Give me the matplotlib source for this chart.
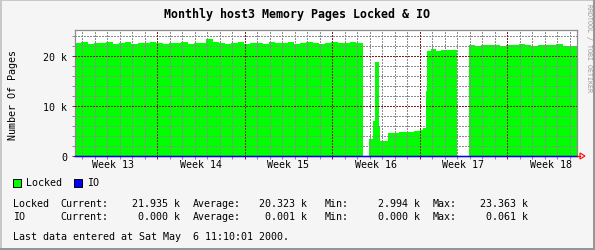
import matplotlib.pyplot as plt
import numpy as np
from matplotlib.patches import Rectangle, Polygon

W, H = 595, 251
nan = np.nan

# Locked pages (k), step data, x in days from left edge of graph
seg_a_days = np.arange(0, 23.2, 0.5)
seg_a_vals = [22.6, 22.8, 22.5, 22.7, 22.6, 22.9, 22.5, 22.6, 22.8, 22.4,
              22.6, 22.7, 22.9, 22.6, 22.5, 22.7, 22.6, 22.8, 22.5, 22.6,
              22.7, 23.36, 22.8, 22.7, 22.5, 22.6, 22.8, 22.4, 22.6, 22.7,
              22.5, 22.8, 22.6, 22.7, 22.9, 22.5, 22.6, 22.8, 22.7, 22.5,
              22.6, 22.9, 22.7, 22.6, 22.8, 22.7, 22.6]
seg_b_days = [23.2, 23.52, 23.84, 24.0, 24.32, 24.42, 25.0, 25.9, 26.6,
              27.1, 27.6, 27.84, 28.05, 28.16, 28.5, 28.9, 29.3, 29.8,
              30.2, 30.55, 30.96]
seg_b_vals = [nan, 3.5, 7.0, 18.8, 6.0, 3.0, 4.7, 4.9, 4.8,
              5.1, 5.3, 5.6, 13.0, 21.0, 21.4, 21.1, 21.3, 21.2,
              21.3, 21.4, nan]
seg_c_days = [31.52, 32.0, 32.5, 33.0, 33.5, 34.0, 34.5, 35.0, 35.5, 36.0,
              36.5, 37.0, 37.5, 38.0, 38.5, 39.0, 39.5, 40.0, 40.16]
seg_c_vals = [22.3, 22.0, 22.2, 22.2, 22.3, 22.1, 22.2, 22.2, 22.5, 22.2,
              22.1, 22.3, 22.2, 22.2, 22.4, 22.1, 22.0, 21.94, 21.94]

locked_days = np.concatenate([seg_a_days, seg_b_days, seg_c_days])
locked_k = np.array(seg_a_vals + seg_b_vals + seg_c_vals)

io_days = [0, 12.0, 12.2, 40.16]
io_k = [0.0, 0.061, 0.0, 0.0]

week_starts = [6.56, 13.56, 20.56, 27.56, 34.56]
week_labels = ['Week 13', 'Week 14', 'Week 15', 'Week 16', 'Week 17', 'Week 18']
week_mid = [3.06, 10.06, 17.06, 24.06, 31.06, 38.06]
x_end = 40.16
y_top = 25.2

stat_names = ['Current:', 'Average:', 'Min:', 'Max:']
locked_stats = [21.935, 20.323, 2.994, 23.363]
io_stats = [0.000, 0.001, 0.000, 0.061]

GRID = '#8c8c8c'
MGRID = '#821e1e'
MONO = 'DejaVu Sans Mono'

fig = plt.figure(figsize=(W / 100, H / 100), dpi=100, facecolor='#f5f5f5')

# shaded border
fig.add_artist(Rectangle((0, 1 - 2 / H), 1, 2 / H, transform=fig.transFigure, color='#c8c8c8', lw=0))
fig.add_artist(Rectangle((0, 0), 2 / W, 1, transform=fig.transFigure, color='#c8c8c8', lw=0))
fig.add_artist(Rectangle((0, 0), 1, 2 / H, transform=fig.transFigure, color='#969696', lw=0))
fig.add_artist(Rectangle((1 - 2 / W, 0), 2 / W, 1, transform=fig.transFigure, color='#969696', lw=0))

ax = fig.add_axes([75 / W, (H - 157) / H, (577 - 75) / W, (157 - 31) / H])
ax.set_facecolor('white')

ax.fill_between(locked_days, 0, locked_k, step='post', color='#00ff00', lw=0, zorder=1)

# grid on top of the area
days = [w + d for w in [0.56 - 1] + week_starts for d in range(1, 7)]
for d in days:
    if 0 < d < x_end:
        ax.axvline(d, color=GRID, lw=0.72, ls=(0, (2, 2)), zorder=2, antialiased=False)
for w in week_starts:
    ax.axvline(w, color=MGRID, lw=0.72, ls=(0, (1.4, 1.4)), zorder=3, antialiased=False)
for yv in range(2, 26, 2):
    if yv % 10:
        ax.axhline(yv, color=GRID, lw=0.72, ls=(0, (2, 2)), zorder=2, antialiased=False)
for yv in [10, 20]:
    ax.axhline(yv, color=MGRID, lw=0.72, ls=(0, (1.4, 1.4)), zorder=3, antialiased=False)

ax.step(io_days, io_k, where='post', color='#0000ff', lw=1.0, zorder=5, clip_on=False)

ax.set_xlim(0, x_end)
ax.set_ylim(0, y_top)

for s in ['top', 'left', 'right']:
    ax.spines[s].set_color(GRID)
    ax.spines[s].set_linewidth(0.9)
ax.spines['bottom'].set_color(MGRID)
ax.spines['bottom'].set_linewidth(0.9)

ax.set_xticks([d for d in days if 0 < d < x_end], minor=True)
ax.set_xticks(week_starts)
ax.set_xticklabels([])
ax.tick_params(axis='x', which='major', length=2.5, width=0.72, color=MGRID)
ax.tick_params(axis='x', which='minor', length=2.5, width=0.72, color=GRID)
ax.set_yticks([0, 10, 20])
ax.set_yticklabels(['0', '10 k', '20 k'], family=MONO, fontsize=7.2)
ax.set_yticks(range(2, 26, 2), minor=True)
ax.tick_params(axis='y', which='major', length=2.5, width=0.72, color=MGRID, pad=3)
ax.tick_params(axis='y', which='minor', length=2.5, width=0.72, color=GRID)

for m, lab in zip(week_mid, week_labels):
    ax.text(m, -1.6, lab, ha='center', va='center', family=MONO, fontsize=7.2)


def put(x, y, s, ha='left', **kw):
    kw.setdefault('family', MONO)
    kw.setdefault('fontsize', 7.2)
    fig.text(x / W, 1 - y / H, s, ha=ha, va='center', **kw)


# axis arrow
fig.add_artist(plt.Line2D([577 / W, 580 / W], [1 - 157 / H] * 2, color='red', lw=0.8))
fig.add_artist(Polygon([[580 / W, 1 - 154 / H], [580 / W, 1 - 160 / H], [585 / W, 1 - 157 / H]],
                       closed=True, fill=False, edgecolor='red', lw=0.8, transform=fig.transFigure))

put(297.5, 15, 'Monthly host3 Memory Pages Locked & IO', ha='center', fontsize=8.4, weight='bold')
fig.text(12.7 / W, 1 - 95 / H, 'Number Of Pages', rotation=90, ha='center', va='center',
         family=MONO, fontsize=7.2)
fig.text(589 / W, 1 - 48 / H, 'RRDTOOL / TOBI OETIKER', rotation=270, ha='center', va='center',
         family=MONO, fontsize=4.8, color='#999999')

# legend
fig.add_artist(Rectangle((12.5 / W, 1 - 187.5 / H), 8 / W, 8 / H, transform=fig.transFigure,
                         facecolor='#00ff00', edgecolor='black', lw=0.7))
put(26, 183.5, 'Locked')
fig.add_artist(Rectangle((73.5 / W, 1 - 187.5 / H), 8 / W, 8 / H, transform=fig.transFigure,
                         facecolor='#0000ff', edgecolor='black', lw=0.7))
put(87, 183.5, 'IO')

# stats
label_x = [60, 192.7, 325, 432.7]
value_x = [180, 307, 420, 528]
for row_y, name, vals in [(204, 'Locked', locked_stats), (217.5, 'IO', io_stats)]:
    put(12.7, row_y, name)
    for lx, vx, lab, v in zip(label_x, value_x, stat_names, vals):
        put(lx, row_y, lab)
        put(vx, row_y, f'{v:.3f} k', ha='right')

put(12.7, 237.5, 'Last data entered at Sat May  6 11:10:01 2000.')

plt.savefig('out.png', dpi=100, facecolor=fig.get_facecolor())
